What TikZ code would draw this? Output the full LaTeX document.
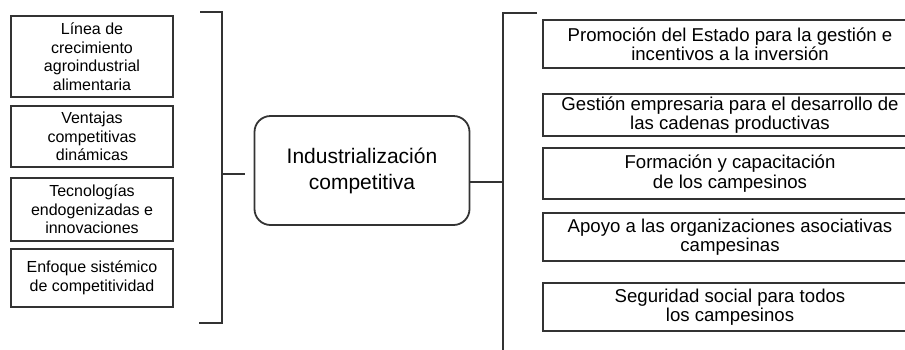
\documentclass[tikz,border=0pt]{standalone}
\usepackage{fontspec}
\setmainfont{Liberation Sans}
\begin{document}
\begin{tikzpicture}[x=1pt,y=-1pt,line width=1.8pt,draw=black!80,
    leftbox/.style={draw=black!80,minimum width=162pt,align=center,
      inner sep=0pt,font=\fontsize{16}{18.5}\selectfont},
    rightbox/.style={draw=black!80,minimum width=374pt,minimum height=48pt,
      align=center,inner sep=0pt,font=\fontsize{18.6}{19.5}\selectfont},
    hub/.style={draw=black!80,rounded corners=16pt,minimum width=215pt,
      minimum height=109pt,align=center,font=\fontsize{21}{26}\selectfont}]
  \clip (0,0) rectangle (905,349);
  % left column
  \node[leftbox,minimum height=81pt] (l1) at (92,56.5)
    {L\'inea de\\crecimiento\\agroindustrial\\alimentaria};
  \node[leftbox,minimum height=61pt] (l2) at (92,136.5)
    {Ventajas\\competitivas\\din\'amicas};
  \node[leftbox,minimum height=63pt] (l3) at (92,209.5)
    {Tecnolog\'ias\\endogenizadas e\\innovaciones};
  \node[leftbox,minimum height=58pt] (l4) at (92,278)
    {Enfoque sist\'emico\\de competitividad};
  % left bracket
  \coordinate (lbt) at (200,12);
  \coordinate (lbb) at (199,323);
  \coordinate (lbm) at (222,174);
  \coordinate (lbtip) at (245,174);
  \draw (lbt) -- (222,12) -- (222,323) -- (lbb);
  \draw (lbm) -- (lbtip);
  % centre
  \node[hub] (hub) at (362,170.5) {Industrializaci\'on\\competitiva};
  % right bracket
  \coordinate (rbm) at (503,182);
  \draw (hub.east |- rbm) -- (rbm);
  \draw (537,13) -- (503,13) -- (503,352);
  % right column
  \node[rightbox] (r1) at (730,44) {Promoci\'on del Estado para la gesti\'on e\\incentivos a la inversi\'on};
  \node[rightbox,minimum height=42pt] (r2) at (730,115) {Gesti\'on empresaria para el desarrollo de\\las cadenas productivas};
  \node[rightbox,minimum height=51pt] (r3) at (730,173.5) {Formaci\'on y capacitaci\'on\\de los campesinos};
  \node[rightbox] (r4) at (730,237) {Apoyo a las organizaciones asociativas\\campesinas};
  \node[rightbox] (r5) at (730,307) {Seguridad social para todos\\los campesinos};
\end{tikzpicture}
\end{document}
